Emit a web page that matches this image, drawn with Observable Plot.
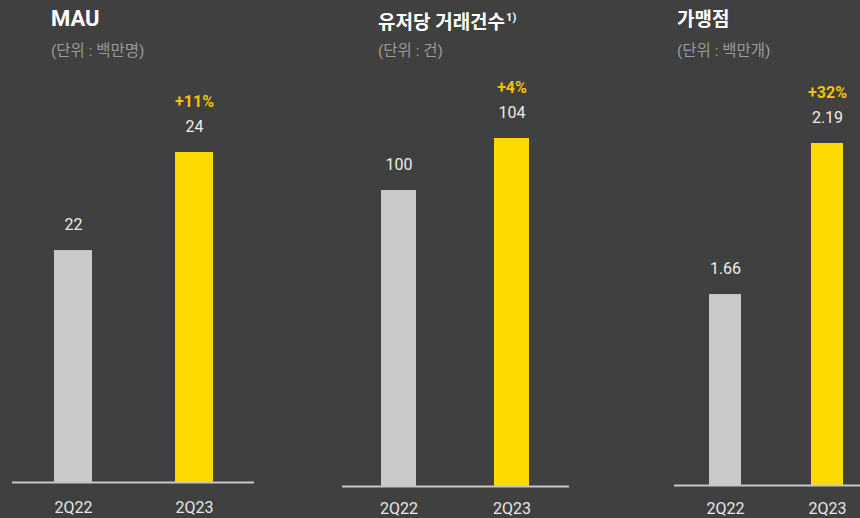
<!DOCTYPE html>
<html>
<head>
<meta charset="utf-8">
<script src="https://cdn.jsdelivr.net/npm/d3@7"></script>
<script src="https://cdn.jsdelivr.net/npm/@observablehq/plot@0.6"></script>
<style>
  html, body { margin: 0; padding: 0; background: #404040; width: 860px; height: 518px; overflow: hidden; }
  body { font-family: Roboto, "Noto Sans CJK KR", sans-serif; }
  #root { position: relative; width: 860px; height: 518px; }
  #root svg { position: absolute; top: 0; }
  .title { position: absolute; color: #ffffff; font-weight: 700; font-size: 20px; line-height: 30px; white-space: nowrap; z-index: 2; }
  .title sup { font-size: 11px; line-height: 0; vertical-align: 0; position: relative; top: -8px; margin-left: 1px; }
  .unit { position: absolute; color: #9a9a9a; font-size: 15.5px; line-height: 20px; white-space: nowrap; z-index: 2; }
</style>
</head>
<body>
<div id="root"></div>
<script>
// ---- data ----
const periods = ["2Q22", "2Q23"];
const mau = [22, 24];
const txPerUser = [100, 104];
const merchants = [1.66, 2.19];
const growth = ["+11%", "+4%", "+32%"];
const titles = ["MAU", "유저당 거래건수", "가맹점"];
const titleNotes = ["", "1)", ""];
const units = ["(단위 : 백만명)", "(단위 : 건)", "(단위 : 백만개)"];
// bottom of each panel's truncated value axis
const axisFloor = [17.27, 77.23, 0.99];

// ---- layout ----
const panels = [
  { values: mau,       left: 0,   width: 266, marginTop: 152, marginBottom: 36, tickPadding: 19, titleX: 51,  titleTop: 4, titleSize: 22 },
  { values: txPerUser, left: 330, width: 251, marginTop: 138, marginBottom: 32, tickPadding: 16, titleX: 378, titleTop: 8, titleSize: 19 },
  { values: merchants, left: 662, width: 228, marginTop: 143, marginBottom: 33, tickPadding: 17, titleX: 677, titleTop: 5, titleSize: 19 }
];

const root = document.getElementById("root");

panels.forEach((p, i) => {
  const rows = periods.map((period, j) => ({ period, value: p.values[j] }));
  const floor = axisFloor[i];
  const chart = Plot.plot({
    width: p.width,
    height: 518,
    marginLeft: 12,
    marginRight: 12,
    marginTop: p.marginTop,
    marginBottom: p.marginBottom,
    x: { domain: periods, paddingInner: 0.686, paddingOuter: 0.343, axis: null, label: null },
    y: { domain: [floor, d3.max(p.values)], axis: null },
    color: { domain: periods, range: ["#c9c9c9", "#ffda00"] },
    style: { background: "transparent", color: "#e6e6e6", fontFamily: 'Roboto, "Noto Sans CJK KR", sans-serif', overflow: "visible" },
    marks: [
      Plot.barY(rows, { x: "period", y1: () => floor, y2: "value", fill: "period" }),
      Plot.ruleY([floor], { stroke: "#c6c6c6", strokeWidth: 2 }),
      Plot.axisX({ tickSize: 0, tickPadding: p.tickPadding, fontSize: 16, fill: "#e6e6e6", label: null }),
      Plot.text(rows, { x: "period", y: "value", text: d => String(d.value), dy: -26, fontSize: 16, fill: "#ececec" }),
      Plot.text(rows.slice(1), { x: "period", y: "value", text: () => growth[i], dy: -51, fontSize: 16, fontWeight: 700, fill: "#f5c000" })
    ]
  });
  chart.style.left = p.left + "px";
  root.appendChild(chart);

  const t = document.createElement("div");
  t.className = "title";
  t.style.left = p.titleX + "px";
  t.style.top = p.titleTop + "px";
  t.style.fontSize = p.titleSize + "px";
  t.textContent = titles[i];
  if (titleNotes[i]) {
    const s = document.createElement("sup");
    s.textContent = titleNotes[i];
    t.appendChild(s);
  }
  root.appendChild(t);

  const u = document.createElement("div");
  u.className = "unit";
  u.style.left = p.titleX + "px";
  u.style.top = "41px";
  u.textContent = units[i];
  root.appendChild(u);
});
</script>
</body>
</html>
